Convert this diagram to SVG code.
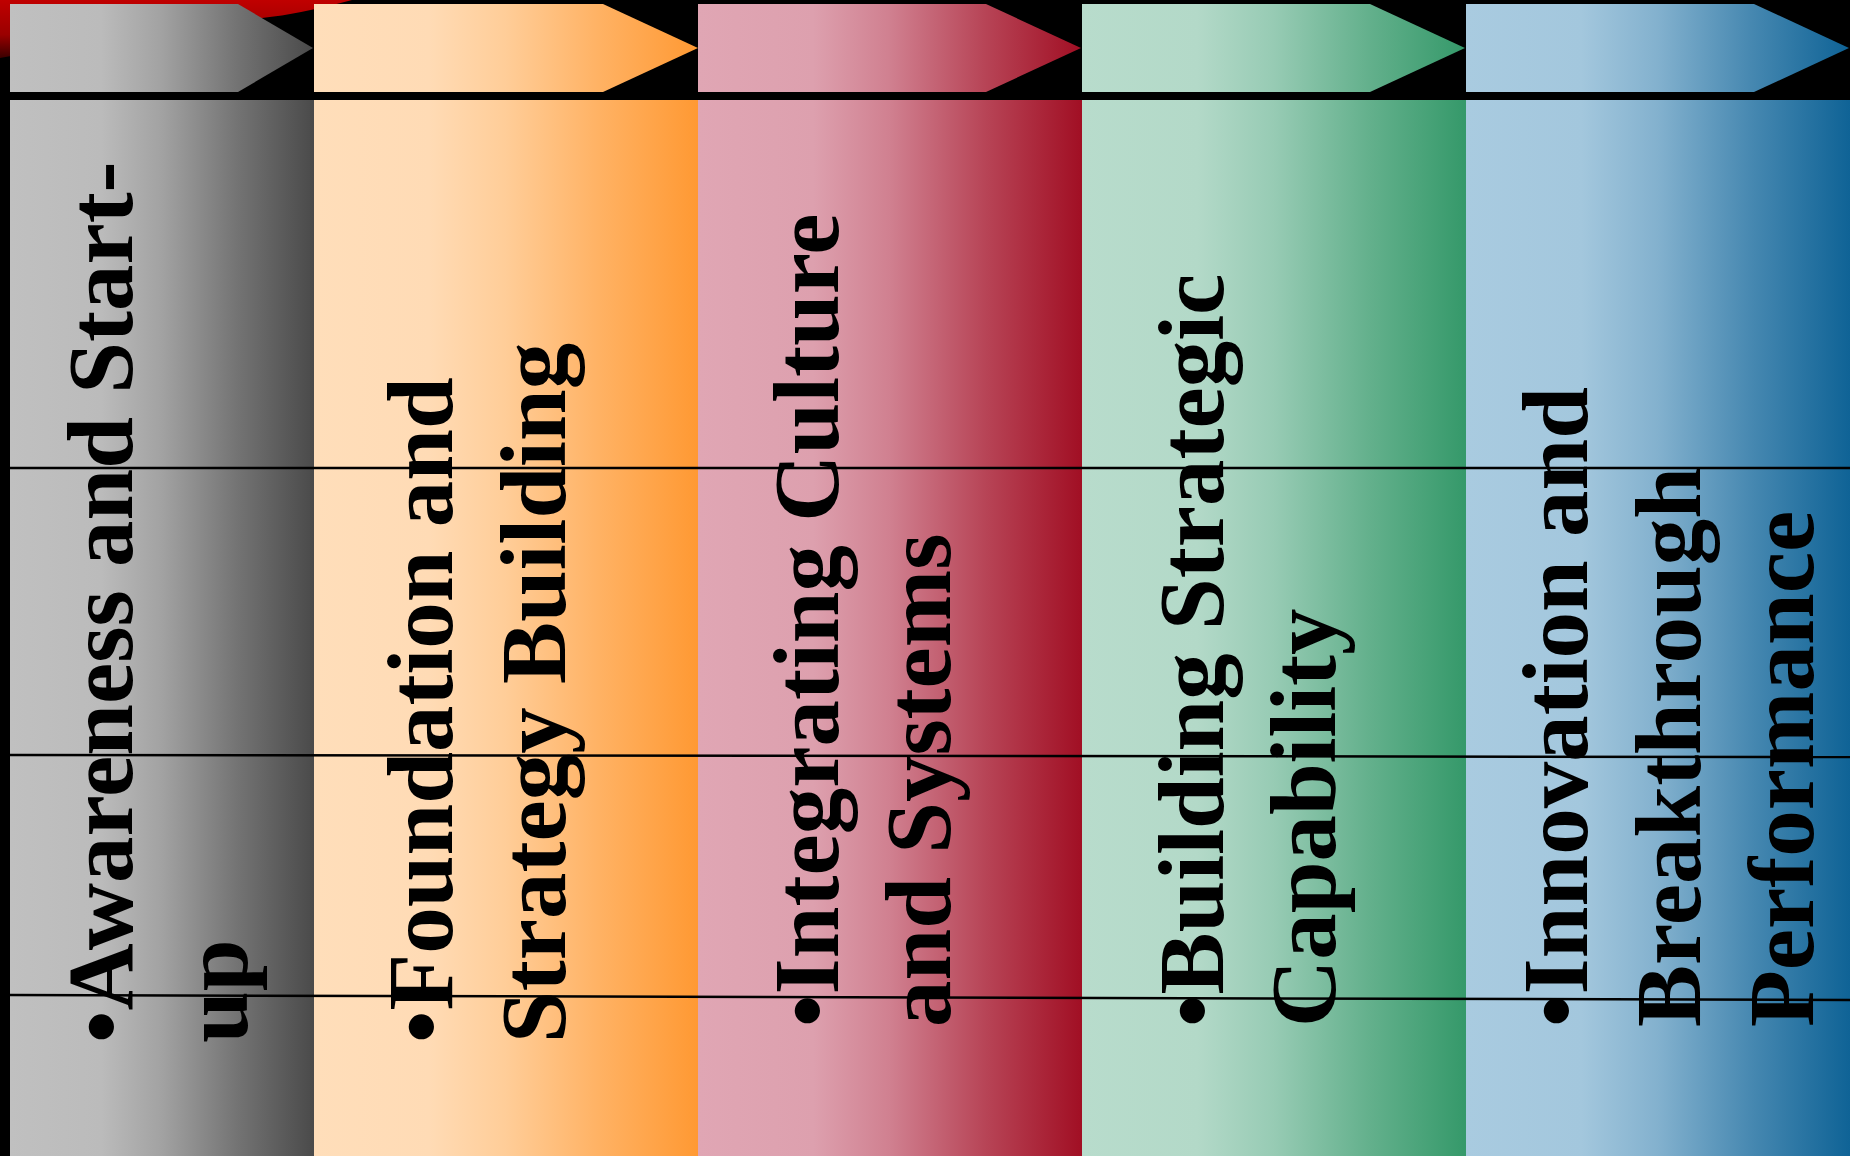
<svg xmlns="http://www.w3.org/2000/svg" width="1850" height="1156" viewBox="0 0 1850 1156">
<defs>
<linearGradient id="g1" x1="0" y1="0" x2="1" y2="0"><stop offset="0" stop-color="#c0c0c0"/><stop offset="0.3" stop-color="#bbbbbb"/><stop offset="0.5" stop-color="#a2a2a2"/><stop offset="0.75" stop-color="#737373"/><stop offset="1" stop-color="#4a4a4a"/></linearGradient>
<linearGradient id="g2" x1="0" y1="0" x2="1" y2="0"><stop offset="0" stop-color="#ffdeba"/><stop offset="0.3" stop-color="#ffdbb5"/><stop offset="0.5" stop-color="#ffcd98"/><stop offset="0.75" stop-color="#ffb162"/><stop offset="1" stop-color="#ff9933"/></linearGradient>
<linearGradient id="g3" x1="0" y1="0" x2="1" y2="0"><stop offset="0" stop-color="#e0a6b4"/><stop offset="0.3" stop-color="#dda0ae"/><stop offset="0.5" stop-color="#d08090"/><stop offset="0.75" stop-color="#b74456"/><stop offset="1" stop-color="#a10f24"/></linearGradient>
<linearGradient id="g4" x1="0" y1="0" x2="1" y2="0"><stop offset="0" stop-color="#b8dccc"/><stop offset="0.3" stop-color="#b3d9c8"/><stop offset="0.5" stop-color="#97cbb4"/><stop offset="0.75" stop-color="#63b08c"/><stop offset="1" stop-color="#35996a"/></linearGradient>
<linearGradient id="g5" x1="0" y1="0" x2="1" y2="0"><stop offset="0" stop-color="#a9cbe0"/><stop offset="0.3" stop-color="#a3c7dd"/><stop offset="0.5" stop-color="#83b1ce"/><stop offset="0.75" stop-color="#4587b0"/><stop offset="1" stop-color="#0f6396"/></linearGradient>
<linearGradient id="red" x1="0" y1="0" x2="0" y2="1"><stop offset="0" stop-color="#c00000"/><stop offset="0.6" stop-color="#9a0000"/><stop offset="1" stop-color="#3a0000"/></linearGradient>
</defs>
<style>
.lbl{font-family:"Liberation Serif","Times New Roman",serif;font-weight:bold;font-size:93px;fill:#000}
.ln{stroke:#000;stroke-width:2.5;fill:none}
</style>
<rect x="0" y="0" width="1850" height="1156" fill="#000"/>
<path d="M0,0 L352,0 Q300,14 262,18 Q150,30 0,58 Z" fill="url(#red)"/>
<g id="stage1">
<polygon points="10,4 238,4 313,48 238,92 10,92" fill="url(#g1)"/>
<rect x="10" y="100" width="304" height="1056" fill="url(#g1)"/>
<text class="lbl" transform="translate(132,1043) rotate(-90)"><tspan x="0" y="0">•Awareness and Start-</tspan><tspan x="0" y="115">up</tspan></text>
</g>
<g id="stage2">
<polygon points="314,4 603,4 698,48 603,92 314,92" fill="url(#g2)"/>
<rect x="314" y="100" width="384" height="1056" fill="url(#g2)"/>
<text class="lbl" transform="translate(452,1043) rotate(-90)"><tspan x="0" y="0">•Foundation and</tspan><tspan x="0" y="113">Strategy Building</tspan></text>
</g>
<g id="stage3">
<polygon points="698,4 986,4 1081,48 986,92 698,92" fill="url(#g3)"/>
<rect x="698" y="100" width="384" height="1056" fill="url(#g3)"/>
<text class="lbl" transform="translate(838,1027) rotate(-90)"><tspan x="0" y="0">•Integrating Culture</tspan><tspan x="0" y="112">and Systems</tspan></text>
</g>
<g id="stage4">
<polygon points="1082,4 1370,4 1465,48 1370,92 1082,92" fill="url(#g4)"/>
<rect x="1082" y="100" width="384" height="1056" fill="url(#g4)"/>
<text class="lbl" transform="translate(1223,1027) rotate(-90)"><tspan x="0" y="0">•Building Strategic</tspan><tspan x="0" y="112">Capability</tspan></text>
</g>
<g id="stage5">
<polygon points="1466,4 1754,4 1849,48 1754,92 1466,92" fill="url(#g5)"/>
<rect x="1466" y="100" width="384" height="1056" fill="url(#g5)"/>
<text class="lbl" transform="translate(1587,1027) rotate(-90)"><tspan x="0" y="0">•Innovation and</tspan><tspan x="0" y="113">Breakthrough</tspan><tspan x="0" y="226">Performance</tspan></text>
</g>
<g id="connectors">
<line class="ln" x1="10" y1="468" x2="1850" y2="468"/>
<line class="ln" x1="10" y1="755" x2="1850" y2="757"/>
<line class="ln" x1="10" y1="995" x2="1850" y2="1000"/>
</g>
</svg>
